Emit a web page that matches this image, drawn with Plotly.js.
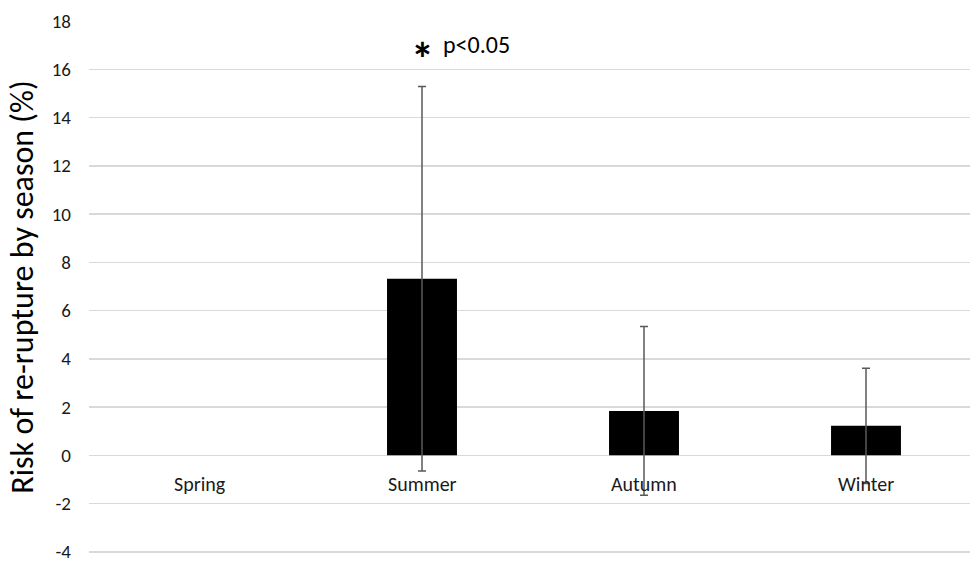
<!DOCTYPE html>
<html>
<head>
<meta charset="utf-8">
<script src="https://cdn.plot.ly/plotly-3.0.1.min.js"></script>
<style>html,body{margin:0;padding:0;overflow:hidden;background:#fff;}</style>
</head>
<body>
<div id="chart" style="width:977px;height:564px;"></div>
<script>
const categories = ["Spring", "Summer", "Autumn", "Winter"];
const risk = [0, 7.32, 1.84, 1.22];
const errorHalf = [NaN, 7.97, 3.5, 2.39];
const yTicks = [-4, -2, 0, 2, 4, 6, 8, 10, 12, 14, 16, 18];
const yTickLabels = ["-4", "-2", "0", "2", "4", "6", "8", "10", "12", "14", "16", "18"];
const sigCategory = "Summer";
const sigY = 16.9;
const sigText = "p<0.05";

const FONT = "Carlito, Lato, 'Liberation Sans', sans-serif";

const trace = {
  type: "bar",
  x: categories,
  y: risk,
  width: 0.315,
  marker: {color: "#000000", line: {width: 0}},
  error_y: {
    type: "data",
    array: errorHalf,
    visible: true,
    color: "#595959",
    thickness: 1.5,
    width: 4
  },
  hoverinfo: "none"
};

const annotations = categories.map(c => ({
  x: c, y: 0, xref: "x", yref: "y",
  text: c, showarrow: false,
  yanchor: "top", yshift: -15,
  font: {family: FONT, size: 20, color: "#1a1a1a"}
}));
annotations.push({
  x: sigCategory, y: sigY, xref: "x", yref: "y",
  text: "<b>*</b>", showarrow: false, yanchor: "middle", yshift: -11,
  font: {family: FONT, size: 46, color: "#000000"}
});
annotations.push({
  x: sigCategory, y: sigY, xref: "x", yref: "y",
  text: sigText, showarrow: false, xanchor: "left", xshift: 19, yanchor: "middle", yshift: 3,
  font: {family: FONT, size: 24, color: "#000000"}
});

const layout = {
  width: 977, height: 564,
  margin: {l: 89, r: 0, t: 21, b: 11},
  paper_bgcolor: "#ffffff", plot_bgcolor: "#ffffff",
  showlegend: false,
  xaxis: {
    type: "category",
    categoryarray: categories,
    showticklabels: false,
    showgrid: false, zeroline: false, showline: false, ticks: ""
  },
  yaxis: {
    range: [-4.05, 18],
    tickvals: yTicks,
    ticktext: yTickLabels,
    showgrid: true, gridcolor: "#d9d9d9", gridwidth: 1.5,
    zeroline: true, zerolinecolor: "#d9d9d9", zerolinewidth: 1.5,
    showline: false, ticks: "",
    ticklabelstandoff: 17,
    ticklabeloverflow: "allow",
    tickfont: {family: FONT, size: 19, color: "#1a1a1a"},
    title: {text: "Risk of re-rupture by season (%)", standoff: 8,
            font: {family: FONT, size: 32, color: "#000000"}}
  },
  annotations: annotations
};

Plotly.newPlot("chart", [trace], layout, {staticPlot: true});
</script>
</body>
</html>
